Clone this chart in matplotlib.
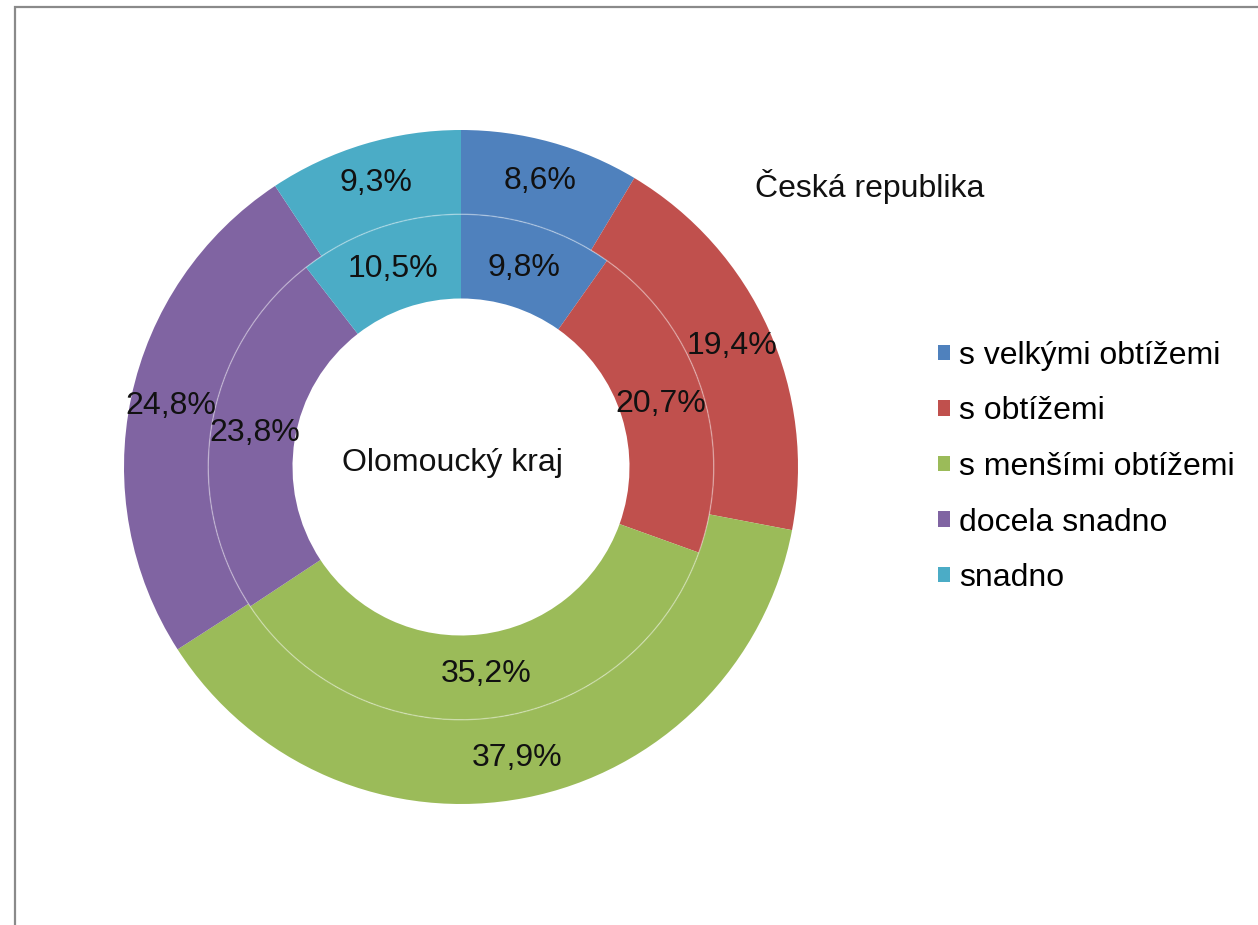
import matplotlib
matplotlib.use("Agg")
import matplotlib.pyplot as plt
import numpy as np
from matplotlib.patches import Rectangle, Circle

plt.rcParams['font.family'] = ['Liberation Sans', 'DejaVu Sans']

categories = ['s velkými obtížemi', 's obtížemi', 's menšími obtížemi', 'docela snadno', 'snadno']
cr_values = [8.6, 19.4, 37.9, 24.8, 9.3]       # outer ring - Česká republika
olk_values = [9.8, 20.7, 35.2, 23.8, 10.5]     # inner ring - Olomoucký kraj
colors = ['#4F81BD', '#C0504D', '#9BBB59', '#8064A2', '#4BACC6']

W, H = 1258, 925
fig = plt.figure(figsize=(W / 100, H / 100), dpi=100)

# pie centre (461, 467) px, radius 337 px
cx, cy, r = 461, 467, 337
ax = fig.add_axes([(cx - r) / W, (H - cy - r) / H, 2 * r / W, 2 * r / H])
ax.set_aspect('equal')

FS = 23


def fmt(v):
    return f"{v:.1f}".replace('.', ',') + '%'


def ring(values, radius, width, label_r):
    wedges, _ = ax.pie(values, radius=radius, colors=colors, startangle=90,
                       counterclock=False,
                       wedgeprops=dict(width=width, edgecolor='none'))
    for w, v in zip(wedges, values):
        ang = np.deg2rad((w.theta1 + w.theta2) / 2)
        ax.text(label_r * np.cos(ang), label_r * np.sin(ang), fmt(v),
                ha='center', va='center', fontsize=FS, color='#111111')
    return wedges


wedges = ring(cr_values, 1.0, 0.25, 0.88)
ring(olk_values, 0.75, 0.25, 0.62)
ax.add_patch(Circle((0, 0), 0.75, fill=False, edgecolor='white', lw=1.0, alpha=0.35))
ax.set_xlim(-1, 1)
ax.set_ylim(-1, 1)
ax.axis('off')

fig.text(452 / W, 1 - 463 / H, 'Olomoucký kraj', ha='center', va='center',
         fontsize=FS, color='#111111')
fig.text(870 / W, 1 - 187 / H, 'Česká republika', ha='center', va='center',
         fontsize=FS, color='#111111')

fig.legend(wedges, categories, loc='center left',
           bbox_to_anchor=(909 / W, 1 - 467 / H), frameon=False,
           fontsize=FS, handlelength=0.37, handleheight=0.37,
           handletextpad=0.3, labelspacing=0.8)

# chart area border (left and top only visible)
fig.add_artist(Rectangle((15 / W, -0.05), 1.1, 1.05 - 7 / H,
                         transform=fig.transFigure, fill=False,
                         edgecolor='#8a8a8a', lw=1.6, clip_on=False))

fig.savefig('out.png', dpi=100)
